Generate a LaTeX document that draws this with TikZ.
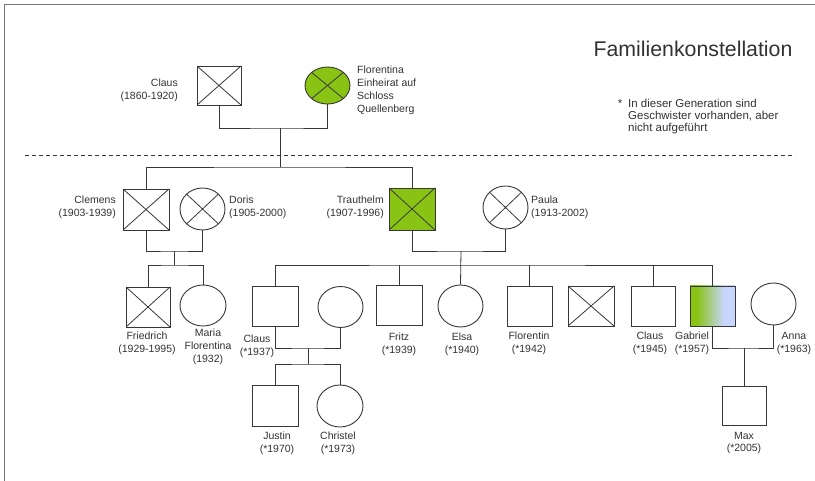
\documentclass[tikz,border=0pt]{standalone}
\usepackage{fontspec}
\setmainfont{Liberation Sans}
\usetikzlibrary{shapes.geometric}
\definecolor{linec}{RGB}{55,55,55}
\definecolor{famgreen}{RGB}{137,195,20}
\definecolor{famblue}{RGB}{200,214,255}
\definecolor{txtc}{RGB}{50,50,50}
\definecolor{framec}{RGB}{120,120,120}
\pgfdeclarehorizontalshading{gabrielshade}{100bp}{color(0bp)=(famgreen); color(32bp)=(famgreen); color(63bp)=(famblue); color(100bp)=(famblue)}
\tikzset{
 male/.style={rectangle, draw=linec, line width=0.9pt, minimum width=45pt, minimum height=40pt, inner sep=0pt},
 female/.style={ellipse, draw=linec, line width=0.9pt, minimum width=45pt, minimum height=41pt, inner sep=0pt},
 deceased/.style={path picture={\draw[linec, line width=0.8pt] (path picture bounding box.north west) -- (path picture bounding box.south east) (path picture bounding box.north east) -- (path picture bounding box.south west);}},
 lbl/.style={font=\fontsize{10.5}{12.8}\selectfont, text=txtc, inner sep=0pt, align=center},
 lblr/.style={lbl, align=right, anchor=east},
 lbll/.style={lbl, align=left, anchor=west},
 conn/.style={draw=linec, line width=0.8pt},
}
\begin{document}
\begin{tikzpicture}[x=1pt, y=-1pt]
\useasboundingbox (0,0) rectangle (815,481);
\draw[framec, line width=1.3pt] (815,4.5) -- (4.5,4.5) -- (4.5,481);

% title and note
\node[font=\fontsize{21.3}{25}\selectfont, text=txtc, anchor=base] (title) at (693,57) {Familienkonstellation};
\node[font=\fontsize{11.5}{12}\selectfont, text=txtc, inner sep=0pt, align=left, anchor=west] (note) at (628,117) {In dieser Generation sind\\Geschwister vorhanden, aber\\nicht aufgeführt};
\node[font=\fontsize{11.5}{12}\selectfont, text=txtc, inner sep=0pt] (star) at (620,104) {*};

% separator
\coordinate (dl) at (25,155);
\coordinate (dr) at (795,155);
\draw[linec, line width=0.7pt, dash pattern=on 4pt off 3pt] (dl) -- (dr);

% generation 1
\node[male, deceased, minimum width=44pt, minimum height=39pt] (claus1) at (219,85.5) {};
\node[female, deceased, fill=famgreen, minimum height=37pt] (flor) at (327.5,85.5) {};
\node[lblr] (lclaus1) at (178,90) {Claus\\(1860-1920)};
\node[lbll, font=\fontsize{10.5}{13}\selectfont] (lflor) at (357,90.5) {Florentina\\Einheirat auf\\Schloss\\Quellenberg};

% generation 2
\node[male, deceased, minimum width=46pt, minimum height=41pt] (clemens) at (146,209.5) {};
\node[female, deceased, minimum height=42pt] (doris) at (202.5,209) {};
\node[male, deceased, fill=famgreen, minimum width=46pt, minimum height=42pt] (trauthelm) at (412,209) {};
\node[female, deceased, minimum height=43pt] (paula) at (505.5,207.5) {};
\node[lblr] (lclemens) at (116,207.5) {Clemens\\(1903-1939)};
\node[lbll] (ldoris) at (229,207.5) {Doris\\(1905-2000)};
\node[lblr] (ltrauthelm) at (384,207.5) {Trauthelm\\(1907-1996)};
\node[lbll] (lpaula) at (531,207.5) {Paula\\(1913-2002)};

% generation 3
\node[male, deceased, minimum width=44pt] (friedrich) at (148,307) {};
\node[female, minimum width=46pt] (maria) at (203,305.5) {};
\node[male, minimum width=46pt] (claus37) at (275,306) {};
\node[female] (wife) at (340.5,307) {};
\node[male, minimum width=46pt] (fritz) at (399,305) {};
\node[female, minimum height=42pt] (elsa) at (460.5,306) {};
\node[male] (florentin) at (529.5,306) {};
\node[male, deceased, minimum width=46pt] (lost) at (591,306) {};
\node[male, minimum width=44pt] (claus45) at (653,306) {};
\node[male, shade, shading=gabrielshade] (gabriel) at (712.5,306) {};
\node[female, minimum height=42pt] (anna) at (773.5,304) {};

\node[lbl] (lfriedrich) at (147,343) {Friedrich\\(1929-1995)};
\node[lbl] (lmaria) at (208,347) {Maria\\Florentina\\(1932)};
\node[lbl] (lclaus37) at (257,346.5) {Claus\\(*1937)};
\node[lbl] (lfritz) at (399,344.5) {Fritz\\(*1939)};
\node[lbl] (lelsa) at (462,344.5) {Elsa\\(*1940)};
\node[lbl] (lflorentin) at (529,343) {Florentin\\(*1942)};
\node[lbl] (lclaus45) at (650,343.5) {Claus\\(*1945)};
\node[lbl] (lgabriel) at (692,343.5) {Gabriel\\(*1957)};
\node[lbl] (lanna) at (794,343.5) {Anna\\(*1963)};

% generation 4
\node[male, minimum width=46pt, minimum height=41pt] (justin) at (275,405.5) {};
\node[female, minimum width=46pt, minimum height=42pt] (christel) at (340,406) {};
\node[male, minimum width=44pt, minimum height=39pt] (max) at (744,405.5) {};
\node[lbl] (ljustin) at (277,443) {Justin\\(*1970)};
\node[lbl] (lchristel) at (338,443) {Christel\\(*1973)};
\node[lbl] (lmax) at (744,443) {Max\\(*2005)};

% connectors
\coordinate (m1) at (280,128);
\coordinate (s1) at (280,167);
\draw[conn] (claus1.south) |- (m1) -| (flor.south);
\draw[conn] (m1) -- (s1);
\draw[conn] (clemens.north) |- (s1) -| (trauthelm.north);

\coordinate (m2) at (174,251);
\coordinate (s2) at (174,265);
\draw[conn] (clemens.south) |- (m2) -| (doris.south);
\draw[conn] (m2) -- (s2);
\draw[conn] (friedrich.north) |- (s2) -| (maria.north);

\coordinate (m3) at (461,251);
\coordinate (s3) at (461,265);
\draw[conn] (trauthelm.south) |- (m3) -| (paula.south);
\draw[conn] (m3) -- (elsa.north);
\draw[conn] (claus37.north) |- (s3) -| (gabriel.north);
\draw[conn] (fritz.north) -- (fritz.north |- s3);
\draw[conn] (florentin.north) -- (florentin.north |- s3);
\draw[conn] (claus45.north) -- (claus45.north |- s3);

\coordinate (m4) at (308,348);
\coordinate (s4) at (308,364);
\draw[conn] (claus37.south) |- (m4) -| (wife.south);
\draw[conn] (m4) -- (s4);
\draw[conn] (justin.north) |- (s4) -| (christel.north);

\coordinate (m5) at (744,348);
\draw[conn] (gabriel.south) |- (m5) -| (anna.south);
\draw[conn] (m5) -- (max.north);
\end{tikzpicture}
\end{document}
